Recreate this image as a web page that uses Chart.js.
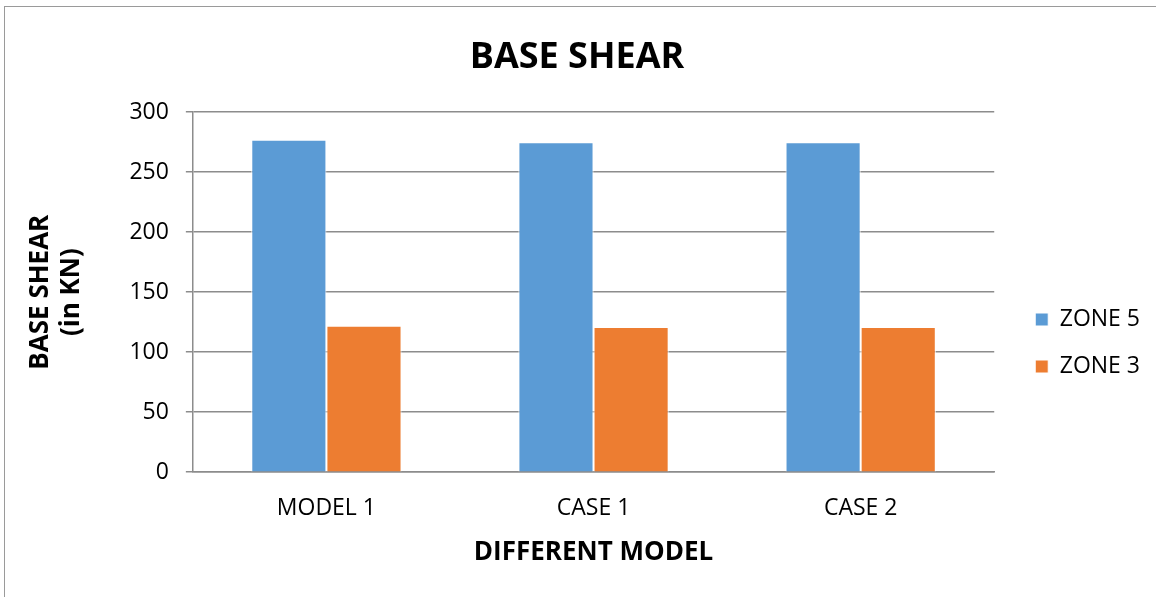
<!DOCTYPE html>
<html>
<head>
<meta charset="utf-8">
<script src="https://cdn.jsdelivr.net/npm/chart.js@4/dist/chart.umd.min.js"></script>
<style>
    html, body { margin: 0; padding: 0; background: #fff; }
    #frame {
        position: absolute; left: 4px; top: 6px; width: 1152px; height: 591px;
        border-top: 1px solid #9a9a9a; border-left: 1px solid #9a9a9a;
    }
    #wrap { position: absolute; left: 0; top: 0; width: 1156px; height: 597px; }
</style>
</head>
<body>
<div id="frame"></div>
<div id="wrap"><canvas id="shearChart"></canvas></div>
<script>
// Data
const categories = ['MODEL 1', 'CASE 1', 'CASE 2'];
const zone5 = [277, 275, 275];
const zone3 = [122, 121, 121];
const yTicks = [0, 50, 100, 150, 200, 250, 300];

const font = "'Open Sans', 'Liberation Sans', sans-serif";
const gridColor = '#8c8c8c';

// nudge the legend away from the plot, like the original
const legendNudge = {
    id: 'legendNudge',
    afterLayout(chart) {
        const lg = chart.legend;
        if (!lg) return;
        lg.left += 17; lg.right += 17;
        lg.top += 39; lg.bottom += 39;
    }
};

const ctx = document.getElementById('shearChart').getContext('2d');
const shearChart = new Chart(ctx, {
    type: 'bar',
    data: {
        labels: categories,
        datasets: [
            {
                label: 'ZONE 5',
                data: zone5,
                backgroundColor: '#5b9bd5',
                borderColor: '#ffffff',
                borderWidth: 1,
                borderSkipped: 'bottom'
            },
            {
                label: 'ZONE 3',
                data: zone3,
                backgroundColor: '#ed7d31',
                borderColor: '#ffffff',
                borderWidth: 1,
                borderSkipped: 'bottom'
            }
        ]
    },
    plugins: [legendNudge],
    options: {
        responsive: true,
        maintainAspectRatio: false,
        animation: false,
        categoryPercentage: 0.5625,
        barPercentage: 1.0,
        layout: { padding: { left: 21, right: 23, top: 36, bottom: 25 } },
        plugins: {
            title: {
                display: true,
                text: 'BASE SHEAR',
                color: '#000',
                font: { family: font, size: 36, weight: 'bold' },
                padding: { top: 0, bottom: 33 }
            },
            legend: {
                position: 'right',
                labels: {
                    color: '#000',
                    boxWidth: 13,
                    boxHeight: 13,
                    padding: 24,
                    font: { family: font, size: 23 }
                }
            },
            tooltip: { enabled: false }
        },
        scales: {
            x: {
                grid: { display: false },
                border: { color: gridColor, width: 1.5 },
                ticks: { color: '#000', padding: 14, font: { family: font, size: 23 } },
                title: {
                    display: true,
                    text: 'DIFFERENT MODEL',
                    color: '#000',
                    font: { family: font, size: 26, weight: 'bold' },
                    padding: { top: 1 }
                }
            },
            y: {
                min: 0,
                max: 300,
                afterBuildTicks: (axis) => { axis.ticks = yTicks.map(v => ({ value: v })); },
                grid: { color: gridColor, lineWidth: 1.5, tickLength: 7 },
                border: { color: gridColor, width: 1.5 },
                ticks: { color: '#000', padding: 17, font: { family: font, size: 23 } },
                title: {
                    display: true,
                    text: ['BASE SHEAR', '(in KN)'],
                    color: '#000',
                    font: { family: font, size: 26, weight: 'bold' },
                    padding: { bottom: 25 }
                }
            }
        }
    }
});
</script>
</body>
</html>
